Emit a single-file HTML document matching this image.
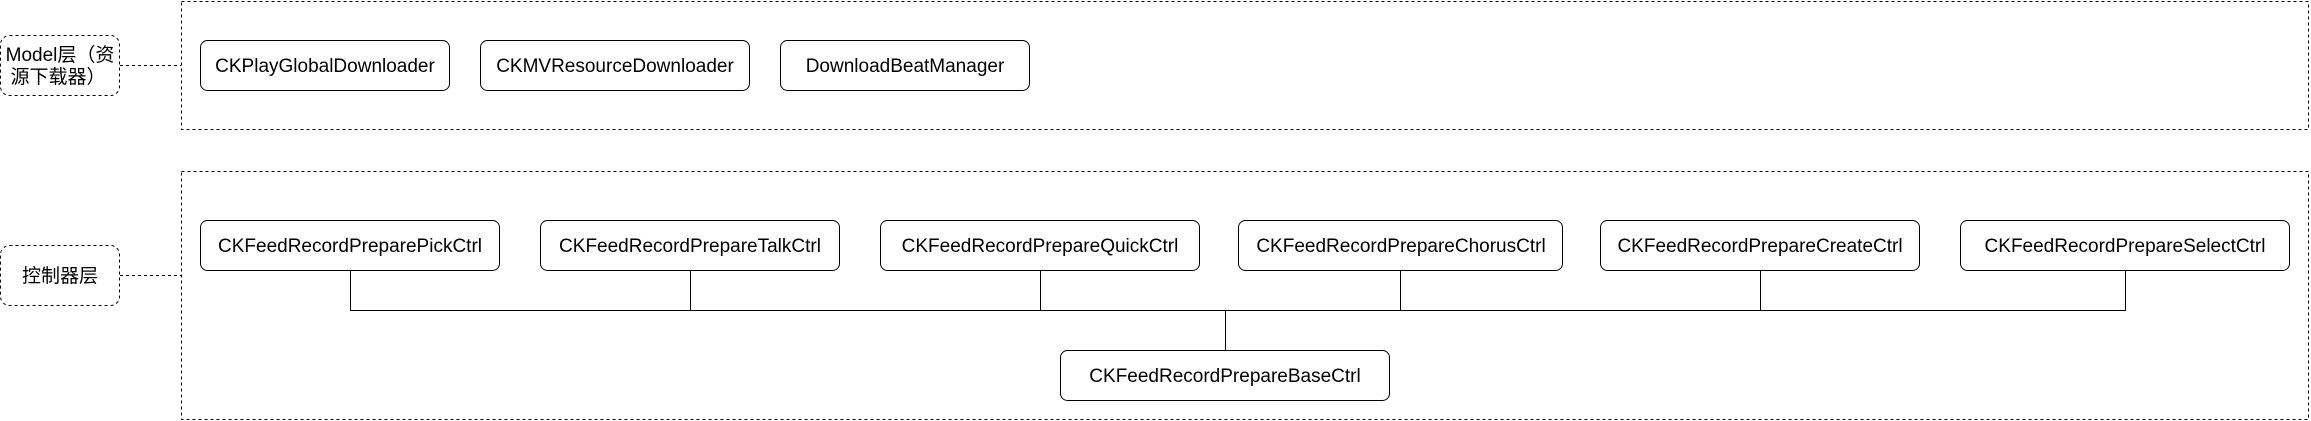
<!DOCTYPE html>
<html><head><meta charset="utf-8"><style>html,body{margin:0;padding:0;background:#fff}svg{display:block}</style></head>
<body>
<svg width="2311" height="421" xmlns="http://www.w3.org/2000/svg" font-family="'Liberation Sans','Noto Sans CJK SC',sans-serif" font-size="19">
<g fill="none" stroke="#000" stroke-width="1" stroke-dasharray="3,3">
<rect x="181.5" y="1.5" width="2127" height="128"/>
<rect x="181.5" y="171.5" width="2127" height="248"/>
<rect x="0.5" y="35.5" width="119" height="60" rx="9"/>
<rect x="0.5" y="245.5" width="119" height="60" rx="9"/>
<line x1="120" y1="65.5" x2="181" y2="65.5"/>
<line x1="120" y1="275.5" x2="181" y2="275.5"/>
</g>
<g fill="#fff" stroke="#000" stroke-width="1">
<rect x="200.5" y="40.5" width="249" height="50" rx="7"/>
<rect x="480.5" y="40.5" width="269" height="50" rx="7"/>
<rect x="780.5" y="40.5" width="249" height="50" rx="7"/>
<rect x="200.5" y="220.5" width="299" height="50" rx="7"/>
<rect x="540.5" y="220.5" width="299" height="50" rx="7"/>
<rect x="880.5" y="220.5" width="319" height="50" rx="7"/>
<rect x="1238.5" y="220.5" width="324" height="50" rx="7"/>
<rect x="1600.5" y="220.5" width="319" height="50" rx="7"/>
<rect x="1960.5" y="220.5" width="329" height="50" rx="7"/>
<rect x="1060.5" y="350.5" width="329" height="50" rx="7"/>
</g>
<g stroke="#000" stroke-width="1" fill="none">
<path d="M350.5 271V310.5H2125.5V271"/>
<path d="M690.5 271V310.5M1040.5 271V310.5M1400.5 271V310.5M1760.5 271V310.5M1225.5 310.5V350"/>
</g>
<g text-anchor="middle" fill="#000">
<text x="60" y="61" font-size="19">Model层（资</text>
<text x="58" y="83" font-size="19">源下载器）</text>
<text x="60" y="282" font-size="19">控制器层</text>
<text x="325" y="72">CKPlayGlobalDownloader</text>
<text x="615" y="72">CKMVResourceDownloader</text>
<text x="905" y="72">DownloadBeatManager</text>
<text x="350" y="252">CKFeedRecordPreparePickCtrl</text>
<text x="690" y="252">CKFeedRecordPrepareTalkCtrl</text>
<text x="1040" y="252">CKFeedRecordPrepareQuickCtrl</text>
<text x="1401" y="252">CKFeedRecordPrepareChorusCtrl</text>
<text x="1760" y="252">CKFeedRecordPrepareCreateCtrl</text>
<text x="2125" y="252">CKFeedRecordPrepareSelectCtrl</text>
<text x="1225" y="382">CKFeedRecordPrepareBaseCtrl</text>
</g>
</svg>
</body></html>
